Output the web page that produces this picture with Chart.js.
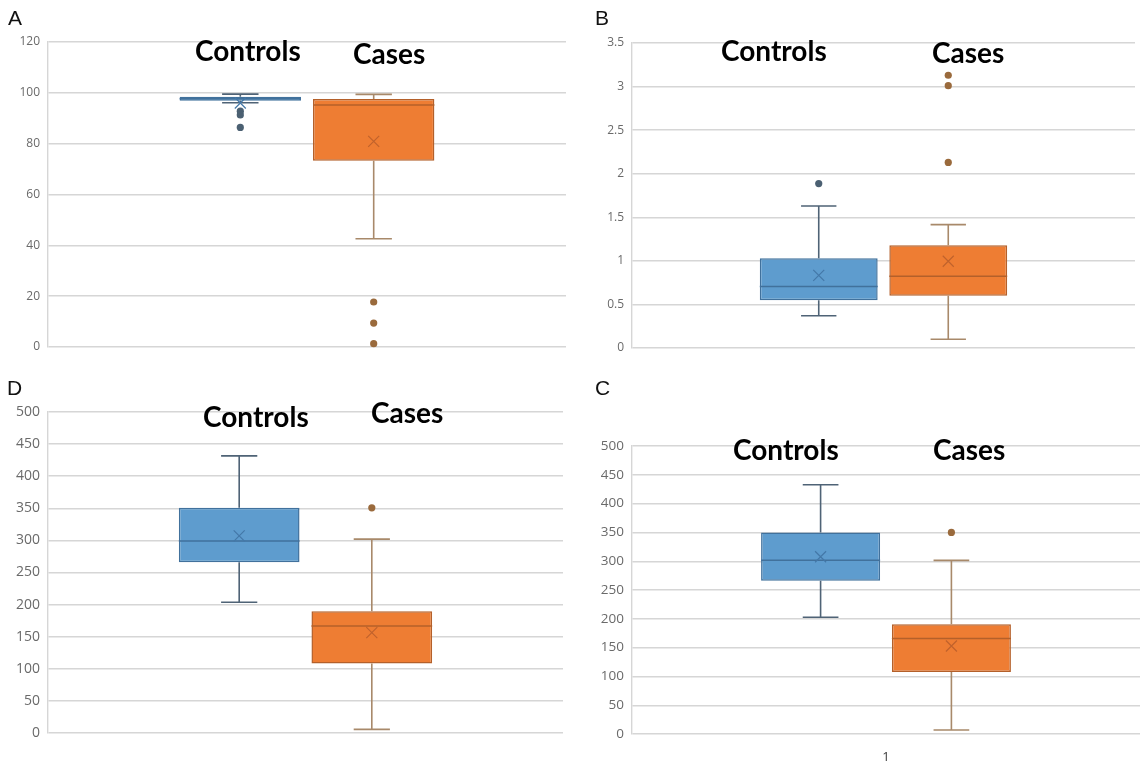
<!DOCTYPE html>
<html>
<head>
<meta charset="utf-8">
<script src="https://cdn.jsdelivr.net/npm/chart.js@4.4.1/dist/chart.umd.min.js"></script>
<style>
  body { margin: 0; background: #fff; }
  #wrap { position: relative; width: 1141px; height: 761px; overflow: hidden; background: #fff; }
  canvas { position: absolute; }
  .letter { position: absolute; font: 21px "Liberation Sans", Arial, sans-serif; line-height: 21px; color: #111; }
  .grp { position: absolute; font: 700 28px Lato, sans-serif; line-height: 28px; color: #000; white-space: nowrap; }
</style>
</head>
<body>
<div id="wrap">
  <canvas id="chartA" width="570" height="365" style="left:0;top:0"></canvas>
  <canvas id="chartB" width="571" height="365" style="left:570px;top:0"></canvas>
  <canvas id="chartD" width="570" height="391" style="left:0;top:370px"></canvas>
  <canvas id="chartC" width="571" height="391" style="left:570px;top:370px"></canvas>

  <div class="letter" style="left:8px;top:7px">A</div>
  <div class="letter" style="left:595px;top:7px">B</div>
  <div class="letter" style="left:7px;top:377px">D</div>
  <div class="letter" style="left:595px;top:377px">C</div>

  <div class="grp" style="left:195px;top:36px">Controls</div>
  <div class="grp" style="left:353px;top:39px">Cases</div>
  <div class="grp" style="left:721px;top:36px">Controls</div>
  <div class="grp" style="left:932px;top:38px">Cases</div>
  <div class="grp" style="left:203px;top:402px">Controls</div>
  <div class="grp" style="left:371px;top:398px">Cases</div>
  <div class="grp" style="left:733px;top:435px">Controls</div>
  <div class="grp" style="left:933px;top:435px">Cases</div>
</div>

<script>
// one category on the x axis, two series per panel
const categories = ['1'];
const seriesNames = ['Controls', 'Cases'];

// each array: [Controls, Cases]
// Panel A
const aMin = [96.1, 42.6];
const aQ1 = [96.9, 73.3];
const aMed = [97.7, 95.2];
const aQ3 = [98.5, 97.6];
const aMax = [99.5, 99.4];
const aMean = [96.0, 80.9];
const aOut = [[92.8, 91.3, 86.4], [17.7, 9.4, 1.3]];

// Panel B
const bMin = [0.37, 0.10];
const bQ1 = [0.547, 0.60];
const bMed = [0.705, 0.823];
const bQ3 = [1.03, 1.18];
const bMax = [1.63, 1.416];
const bMean = [0.834, 0.995];
const bOut = [[1.887], [3.13, 3.01, 2.13]];

// Panel D
const dMin = [203.6, 5.7];
const dQ1 = [266, 108.2];
const dMed = [299, 166.8];
const dQ3 = [350.7, 189.6];
const dMax = [431.6, 302];
const dMean = [307, 156.4];
const dOut = [[], [350.7]];

// Panel C
const cMin = [202.6, 6.9];
const cQ1 = [266, 107.6];
const cMed = [301.5, 166];
const cQ3 = [350, 190.4];
const cMax = [432.8, 301.5];
const cMean = [307.8, 152.8];
const cOut = [[], [350]];

const fills = ['#5e9cce', '#ee7d33'];
const borders = ['#41719c', '#b4602a'];
const whiskerCols = ['#4f6376', '#a8896a'];
const dotCols = ['#4b6072', '#9a6a3c'];
const meanCols = ['#4478a8', '#c0622c'];

// whiskers, caps, median, mean cross and outliers, placed with the bar element and y scale
const boxWhiskers = {
  id: 'boxWhiskers',
  afterDatasetsDraw(chart) {
    const ctx = chart.ctx;
    const ys = chart.scales.y;
    chart.data.datasets.forEach((ds, i) => {
      const bar = chart.getDatasetMeta(i).data[0];
      const s = ds.stats;
      const cx = bar.x, half = bar.width / 2, cap = bar.width * 0.15;
      const py = v => ys.getPixelForValue(v);
      ctx.save();
      ctx.lineWidth = 1.6;
      ctx.strokeStyle = whiskerCols[i];
      ctx.beginPath();
      ctx.moveTo(cx, py(s.q3)); ctx.lineTo(cx, py(s.max));
      ctx.moveTo(cx - cap, py(s.max)); ctx.lineTo(cx + cap, py(s.max));
      ctx.moveTo(cx, py(s.q1)); ctx.lineTo(cx, py(s.min));
      ctx.moveTo(cx - cap, py(s.min)); ctx.lineTo(cx + cap, py(s.min));
      ctx.stroke();
      // median
      ctx.strokeStyle = borders[i];
      ctx.lineWidth = 1.5;
      ctx.beginPath();
      ctx.moveTo(cx - half, py(s.med)); ctx.lineTo(cx + half, py(s.med));
      ctx.stroke();
      // mean cross
      const my = py(s.mean), m = 5.5;
      ctx.strokeStyle = meanCols[i];
      ctx.lineWidth = 1.2;
      ctx.beginPath();
      ctx.moveTo(cx - m, my - m); ctx.lineTo(cx + m, my + m);
      ctx.moveTo(cx + m, my - m); ctx.lineTo(cx - m, my + m);
      ctx.stroke();
      // outliers
      ctx.fillStyle = dotCols[i];
      s.out.forEach(v => {
        ctx.beginPath();
        ctx.arc(cx, py(v), 3.6, 0, Math.PI * 2);
        ctx.fill();
      });
      ctx.restore();
    });
  }
};

function boxChart(canvasId, min, q1, med, q3, max, mean, out, look) {
  const datasets = seriesNames.map((name, i) => ({
    label: name,
    data: [[q1[i], q3[i]]],
    backgroundColor: fills[i],
    borderColor: borders[i],
    borderWidth: 1.5,
    borderSkipped: false,
    categoryPercentage: 0.515,
    barPercentage: 0.91,
    stats: { min: min[i], q1: q1[i], med: med[i], q3: q3[i], max: max[i], mean: mean[i], out: out[i] }
  }));
  return new Chart(document.getElementById(canvasId), {
    type: 'bar',
    data: { labels: categories, datasets: datasets },
    options: {
      responsive: false,
      animation: false,
      events: [],
      layout: { padding: { left: 0, right: look.padRight, top: look.padTop, bottom: 0 } },
      plugins: { legend: { display: false }, tooltip: { enabled: false } },
      scales: {
        x: {
          grid: { display: false },
          border: { display: false },
          ticks: { display: look.showX, color: '#3a3a3a', padding: 7, font: { family: 'Open Sans', size: 13 } },
          afterFit: s => { s.height = look.xHeight; }
        },
        y: {
          min: 0,
          max: look.yMax,
          ticks: {
            stepSize: look.step,
            color: '#6a6a6a',
            padding: 8,
            font: { family: 'Open Sans', size: look.tickSize },
            callback: v => String(v)
          },
          grid: { color: '#d6d6d6', lineWidth: 1.4, drawTicks: false },
          border: { display: true, color: '#d6d6d6', width: 1.4 },
          afterFit: s => { s.width = look.yWidth; }
        }
      }
    },
    plugins: [boxWhiskers]
  });
}

boxChart('chartA', aMin, aQ1, aMed, aQ3, aMax, aMean, aOut,
  { yMax: 120, step: 20, yWidth: 48, xHeight: 18, padTop: 42, padRight: 4, tickSize: 12, showX: false });
boxChart('chartB', bMin, bQ1, bMed, bQ3, bMax, bMean, bOut,
  { yMax: 3.5, step: 0.5, yWidth: 62, xHeight: 17, padTop: 43, padRight: 6, tickSize: 12, showX: false });
boxChart('chartD', dMin, dQ1, dMed, dQ3, dMax, dMean, dOut,
  { yMax: 500, step: 50, yWidth: 48, xHeight: 28, padTop: 42, padRight: 7, tickSize: 14, showX: false });
boxChart('chartC', cMin, cQ1, cMed, cQ3, cMax, cMean, cOut,
  { yMax: 500, step: 50, yWidth: 62, xHeight: 27, padTop: 76, padRight: 1, tickSize: 13.5, showX: true });
</script>
</body>
</html>
